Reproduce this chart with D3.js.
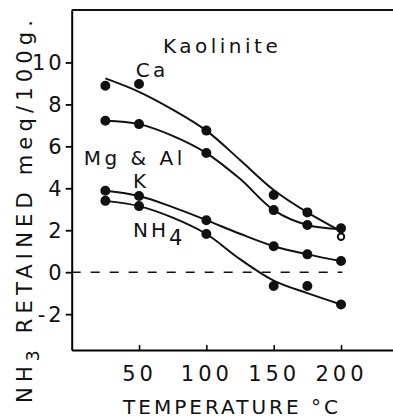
<!DOCTYPE html>
<html>
<head>
<meta charset="utf-8">
<script src="https://cdn.jsdelivr.net/npm/d3@7"></script>
<style>
  body { margin: 0; background: #fff; }
  svg text { font-family: "DejaVu Sans", sans-serif; fill: #111; }
</style>
</head>
<body>
<script>
// measured points (temperature, meq/100g)
var temps = [25, 50, 100, 150, 175, 200];
var caPts   = [8.89, 8.97, 6.75, 3.68, 2.85, 1.69];
var mgAlPts = [7.22, 7.06, 5.68, 2.96, 2.25, 2.09];
var kPts    = [3.88, 3.63, 2.48, 1.24, 0.85, 0.53];
var nh4Pts  = [3.40, 3.15, 1.82, -0.66, -0.66, -1.54];

// hand drawn fitted curves
var curveTemps = [25, 50, 75, 100, 125, 150, 175, 200];
var caCurve   = [9.24, 8.6, 7.75, 6.75, 5.35, 3.92, 2.85, 1.95];
var mgAlCurve = [7.22, 7.06, 6.5, 5.68, 4.45, 2.96, 2.25, 2.05];
var kCurve    = [3.88, 3.63, 3.1, 2.48, 1.83, 1.24, 0.85, 0.53];
var nh4Curve  = [3.40, 3.15, 2.6, 1.82, 0.62, -0.4, -1.0, -1.54];

var yTicks = [-2, 0, 2, 4, 6, 8, 10];
var xTicks = [50, 100, 150, 200];

var width = 393, height = 420;

var x = d3.scaleLinear().domain([0, 238.6]).range([71.7, 393]);
var y = d3.scaleLinear().domain([-3.71, 12.5]).range([350, 10]);

var svg = d3.select("body").append("svg")
    .attr("width", width)
    .attr("height", height);

// spread the letters of a text so it spans w pixels
function spread(t, w) {
    var len = t.node().getComputedTextLength();
    var n = t.text().length;
    t.attr("letter-spacing", (w - len) / (n - 1));
}

// axes
var yAxis = d3.axisLeft(y)
    .tickValues(yTicks)
    .tickSizeInner(6)
    .tickSizeOuter(0)
    .tickPadding(4)
    .tickFormat(function(d) { return d; });

var gy = svg.append("g")
    .attr("transform", "translate(" + x(0) + ",0)")
    .call(yAxis);
gy.select(".domain").attr("stroke-width", 2);
gy.selectAll(".tick line").attr("stroke-width", 1.8);
gy.selectAll(".tick text")
    .attr("font-size", 21)
    .attr("letter-spacing", 3)
    .attr("dx", 3)
    .attr("dy", "0.36em")
    .attr("fill", "#111");

var xAxis = d3.axisBottom(x)
    .tickValues(xTicks)
    .tickSizeInner(-5)
    .tickSizeOuter(0)
    .tickFormat(function(d) { return d; });

var gx = svg.append("g")
    .attr("transform", "translate(0," + y(-3.71) + ")")
    .call(xAxis);
gx.select(".domain").attr("stroke-width", 2);
gx.selectAll(".tick line").attr("stroke-width", 1.5);
gx.selectAll(".tick text")
    .attr("font-size", 21)
    .attr("letter-spacing", 4)
    .attr("y", 31)
    .attr("dy", 0)
    .attr("fill", "#111");

// top frame line
svg.append("line")
    .attr("x1", x(0)).attr("x2", width)
    .attr("y1", y(12.5)).attr("y2", y(12.5))
    .attr("stroke", "#111").attr("stroke-width", 2);

// zero line
svg.append("line")
    .attr("x1", x(0)).attr("x2", x(201))
    .attr("y1", y(0)).attr("y2", y(0))
    .attr("stroke", "#111").attr("stroke-width", 1.6)
    .attr("stroke-dasharray", "9,10");

// curves
var line = d3.line()
    .x(function(d) { return x(d[0]); })
    .y(function(d) { return y(d[1]); })
    .curve(d3.curveCatmullRom.alpha(0.5));

[caCurve, mgAlCurve, kCurve, nh4Curve].forEach(function(c) {
    svg.append("path")
        .datum(d3.zip(curveTemps, c))
        .attr("fill", "none")
        .attr("stroke", "#111")
        .attr("stroke-width", 2)
        .attr("d", line);
});

// points
var allPts = [["Ca", caPts], ["MgAl", mgAlPts], ["K", kPts], ["NH4", nh4Pts]];
allPts.forEach(function(s) {
    svg.append("g").selectAll("circle")
        .data(d3.zip(temps, s[1]))
        .enter().append("circle")
        .attr("cx", function(d) { return x(d[0]); })
        .attr("cy", function(d) { return y(d[1]); })
        .attr("r", function(d) { return (s[0] == "Ca" && d[0] == 200) ? 3.2 : 4; })
        .attr("fill", function(d) { return (s[0] == "Ca" && d[0] == 200) ? "#fff" : "#111"; })
        .attr("stroke", "#111")
        .attr("stroke-width", 2);
});

// labels
var labels = [
    {t: "Kaolinite", x: 67.8, y: 10.45},
    {t: "Ca", x: 47.5, y: 9.3},
    {t: "Mg & Al", x: 9, y: 5.1},
    {t: "K", x: 45.5, y: 4.0}
];
labels.forEach(function(l) {
    svg.append("text")
        .attr("x", x(l.x)).attr("y", y(l.y))
        .attr("font-size", 20)
        .attr("letter-spacing", 3.5)
        .text(l.t);
});
var nh4 = svg.append("text")
    .attr("x", x(45.5)).attr("y", y(1.69))
    .attr("font-size", 20)
    .attr("letter-spacing", 3);
nh4.append("tspan").text("NH");
nh4.append("tspan").attr("dy", 8).attr("font-size", 21).text("4");

// axis titles
var xt = svg.append("text")
    .attr("x", 123)
    .attr("y", 414)
    .attr("font-size", 20)
    .text("TEMPERATURE °C");
spread(xt, 215);

var yt = svg.append("text")
    .attr("transform", "translate(32,403) rotate(-90)")
    .attr("font-size", 21);
yt.append("tspan").text("NH");
yt.append("tspan").attr("dy", 7).attr("font-size", 17).text("3");
yt.append("tspan").attr("dy", -7).text(" RETAINED meq/100g.");
spread(yt, 383);
</script>
</body>
</html>
